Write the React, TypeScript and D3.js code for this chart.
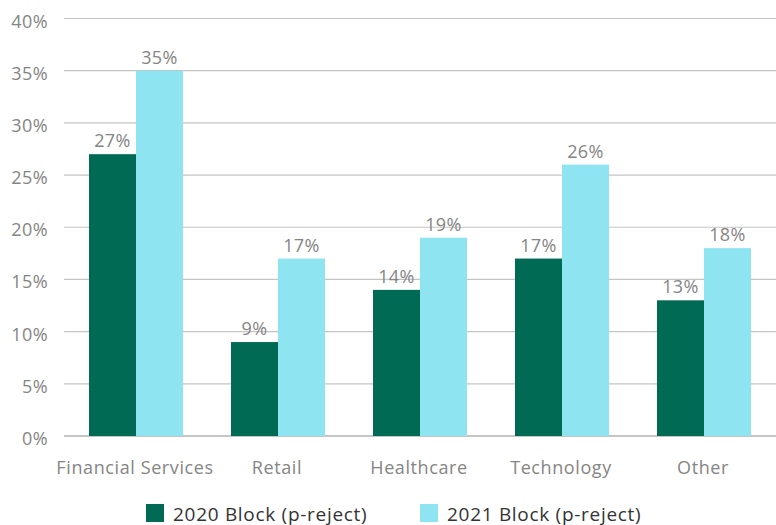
import React from "react";
import * as d3 from "d3";

const categories = ["Financial Services", "Retail", "Healthcare", "Technology", "Other"];
const seriesNames = ["2020 Block (p-reject)", "2021 Block (p-reject)"];
const values2020 = [27, 9, 14, 17, 13];
const values2021 = [35, 17, 19, 26, 18];
const yTicks = [0, 5, 10, 15, 20, 25, 30, 35, 40];

const colors = ["#006A55", "#8FE4F1"];
const FONT = "'Open Sans', 'DejaVu Sans', sans-serif";

export default function App() {
  const width = 776;
  const height = 525;
  const plotLeft = 64;
  const plotRight = 774;
  const yTop = 18.5;
  const yBottom = 436;

  const x = d3.scaleBand<string>().domain(categories).range([plotLeft, plotRight]).paddingInner(0).paddingOuter(0);
  const inner = d3.scaleBand<number>().domain([0, 1]).range([25, x.bandwidth() - 23]).padding(0);
  const y = d3.scaleLinear().domain([0, 40]).range([yBottom, yTop]);

  const series = [values2020, values2021];

  return (
    <svg width={width} height={height} style={{ position: "absolute", left: 0, top: 0 }} fontFamily={FONT}>
      <rect width={width} height={height} fill="#fff" />
      {yTicks.map((t) => (
        <g key={t}>
          <line x1={plotLeft} x2={776} y1={y(t)} y2={y(t)} stroke={t === 0 ? "#8c8c8c" : "#c4c4c4"} strokeWidth={1.2} />
          <text x={48} y={y(t) + 9} textAnchor="end" fontSize={18} letterSpacing={0.4} fill="#858585">
            {t}%
          </text>
        </g>
      ))}
      {categories.map((c, i) => (
        <g key={c}>
          {series.map((vals, s) => {
            const bx = (x(c) as number) + (inner(s) as number);
            const bw = inner.bandwidth();
            return (
              <g key={s}>
                <rect x={bx} y={y(vals[i])} width={bw} height={y(0) - y(vals[i])} fill={colors[s]} />
                <text x={bx + bw / 2} y={y(vals[i]) - 7} textAnchor="middle" fontSize={18} letterSpacing={0.4} fill="#858585">
                  {vals[i]}%
                </text>
              </g>
            );
          })}
          <text x={(x(c) as number) + x.bandwidth() / 2} y={474} textAnchor="middle" fontSize={18} letterSpacing={0.6} fill="#858585">
            {c}
          </text>
        </g>
      ))}
      {seriesNames.map((n, s) => {
        const lx = s === 0 ? 146 : 420;
        return (
          <g key={n}>
            <rect x={lx} y={504} width={18} height={18} fill={colors[s]} />
            <text x={lx + 27} y={520.5} fontSize={19} letterSpacing={0.7} fill="#333">
              {n}
            </text>
          </g>
        );
      })}
    </svg>
  );
}
